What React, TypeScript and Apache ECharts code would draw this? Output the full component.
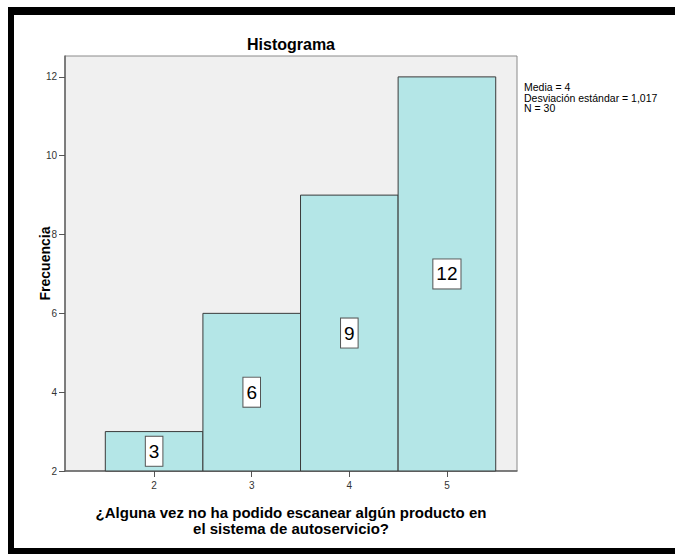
import React, { useEffect, useRef } from "react";
import * as echarts from "echarts";

const categories = [2, 3, 4, 5];
const frequencies = [3, 6, 9, 12];
const yTicks = [2, 4, 6, 8, 10, 12];
const yMin = 2;
const yMax = 12.53;
const xMin = 1.087;
const xMax = 5.718;
const titleText = "Histograma";
const yName = "Frecuencia";
const xName = "¿Alguna vez no ha podido escanear algún producto en\nel sistema de autoservicio?";
const statsLines = ["Media = 4", "Desviación estándar = 1,017", "N = 30"];

const FONT = '"Liberation Sans", Arial, sans-serif';

export default function App() {
  const ref = useRef<HTMLDivElement>(null);
  useEffect(() => {
    if (!ref.current) return;
    const chart = echarts.init(ref.current, null, { renderer: "svg" });
    const data = categories.map((c, i) => [c, frequencies[i]]);
    chart.setOption({
      animation: false,
      backgroundColor: "#ffffff",
      textStyle: { fontFamily: FONT },
      title: {
        text: titleText,
        left: 291,
        top: 35,
        textAlign: "center",
        padding: 0,
        textStyle: { fontSize: 16, fontWeight: "bold", color: "#000", lineHeight: 18, fontFamily: FONT },
      },
      grid: {
        left: 65,
        right: 158,
        top: 56,
        bottom: 83,
        show: true,
        backgroundColor: "#f0f0f0",
        borderColor: "#8a8a8a",
        borderWidth: 1,
      },
      xAxis: {
        type: "value",
        min: xMin,
        max: xMax,
        name: xName,
        nameLocation: "middle",
        nameGap: 33,
        nameMoveOverlap: false,
        nameTextStyle: { fontSize: 15, fontWeight: "bold", color: "#000", lineHeight: 16, fontFamily: FONT },
        splitLine: { show: false },
        axisLine: { show: true, onZero: false, lineStyle: { color: "#666", width: 1.5 } },
        axisTick: { show: true, customValues: categories, length: 6, lineStyle: { color: "#555" } },
        axisLabel: { customValues: categories, fontSize: 10, color: "#333", margin: 9, fontFamily: FONT },
      },
      yAxis: {
        type: "value",
        min: yMin,
        max: yMax,
        name: yName,
        nameLocation: "middle",
        nameGap: 12,
        nameMoveOverlap: false,
        nameTextStyle: { fontSize: 14, fontWeight: "bold", color: "#000", lineHeight: 16, fontFamily: FONT },
        splitLine: { show: false },
        axisLine: { show: true, onZero: false, lineStyle: { color: "#666", width: 1.5 } },
        axisTick: { show: true, customValues: yTicks, length: 6, lineStyle: { color: "#555" } },
        axisLabel: { customValues: yTicks, fontSize: 10, color: "#333", margin: 8, fontFamily: FONT },
      },
      series: [
        {
          type: "custom",
          data,
          renderItem: (params: any, api: any) => {
            const x = api.value(0);
            const v = api.value(1);
            const p0 = api.coord([x - 0.5, yMin]);
            const p1 = api.coord([x + 0.5, v]);
            const w = p1[0] - p0[0];
            const h = p0[1] - p1[1];
            return {
              type: "group",
              children: [
                {
                  type: "rect",
                  shape: { x: p0[0], y: p1[1], width: w, height: h },
                  style: { fill: "#b4e6e7", stroke: "#3a3a3a", lineWidth: 1 },
                },
                {
                  type: "text",
                  x: p0[0] + w / 2,
                  y: p1[1] + h / 2,
                  style: {
                    text: String(v),
                    fontSize: 19,
                    fontFamily: FONT,
                    fill: "#000",
                    align: "center",
                    verticalAlign: "middle",
                    lineHeight: 22,
                    backgroundColor: "#ffffff",
                    borderColor: "#555",
                    borderWidth: 1,
                    padding: [4, 3, 3, 3],
                  },
                },
              ],
            };
          },
        },
      ],
      graphic: [
        { type: "rect", shape: { x: 8, y: 7, width: 667, height: 8 }, style: { fill: "#000" } },
        { type: "rect", shape: { x: 8, y: 7, width: 6, height: 547 }, style: { fill: "#000" } },
        { type: "rect", shape: { x: 8, y: 548, width: 667, height: 6 }, style: { fill: "#000" } },
        {
          type: "text",
          x: 524,
          y: 82,
          style: {
            text: statsLines.join("\n"),
            fontSize: 10.5,
            lineHeight: 10.5,
            fontFamily: FONT,
            fill: "#000",
          },
        },
      ],
    });
    return () => chart.dispose();
  }, []);
  return (
    <div
      ref={ref}
      style={{ position: "fixed", left: 0, top: 0, width: 675, height: 554 }}
    />
  );
}
